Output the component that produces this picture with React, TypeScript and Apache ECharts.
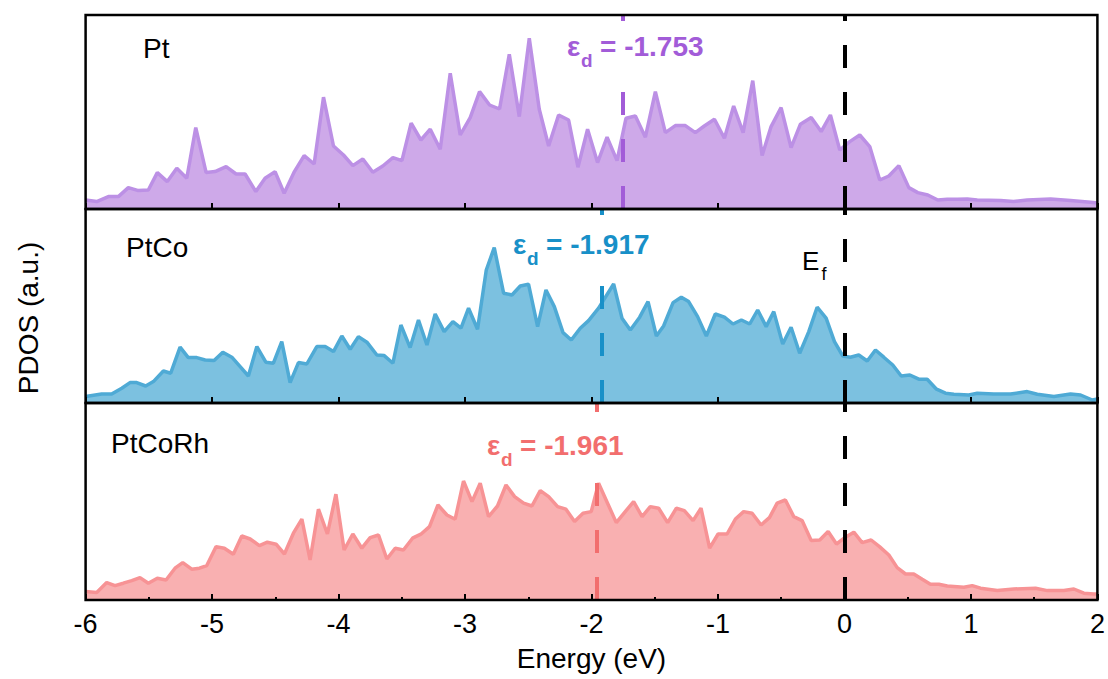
import React, { useEffect, useRef } from "react";
import * as echarts from "echarts";

// ---------- data ----------
const materials = ["Pt", "PtCo", "PtCoRh"];
const dBandCenters = [-1.753, -1.917, -1.961];
const dBandLabels = ["-1.753", "-1.917", "-1.961"];
const fermiLevel = 0;
const xTickMin = -6;
const xTickMax = 2;

const ptEnergy = [
  -6.0, -5.912, -5.82, -5.741, -5.662, -5.583, -5.504, -5.433, -5.354, -5.279,
  -5.2, -5.129, -5.047, -4.976, -4.889, -4.81, -4.739, -4.654, -4.581, -4.502,
  -4.43, -4.349, -4.272, -4.193, -4.119, -4.04, -3.961, -3.887, -3.808, -3.729,
  -3.65, -3.57, -3.499, -3.426, -3.349, -3.275, -3.196, -3.117, -3.038, -2.959,
  -2.885, -2.806, -2.727, -2.65, -2.571, -2.492, -2.413, -2.339, -2.26, -2.181,
  -2.107, -2.031, -1.952, -1.877, -1.798, -1.727, -1.653, -1.574, -1.495, -1.416,
  -1.337, -1.258, -1.179, -1.108, -1.028, -0.949, -0.876, -0.801, -0.725, -0.651,
  -0.58, -0.501, -0.422, -0.348, -0.263, -0.184, -0.111, -0.037, 0.042, 0.121,
  0.2, 0.279, 0.351, 0.43, 0.509, 0.58, 0.659, 0.738, 0.813, 0.892,
  0.971, 1.05, 1.234, 1.337, 1.445, 1.63, 1.788, 1.946, 2.0,
];
const ptPdos = [
  0.45, 0.37, 0.62, 0.62, 1.07, 0.92, 0.95, 1.82, 1.37, 2.04,
  1.54, 4.07, 1.82, 1.87, 2.12, 1.75, 1.75, 0.87, 1.54, 1.87,
  0.79, 1.87, 2.67, 2.25, 5.59, 3.15, 2.7, 2.17, 2.5, 1.84,
  2.15, 2.57, 2.42, 4.29, 3.45, 3.99, 2.99, 6.79, 3.7, 4.57,
  5.87, 5.2, 5.0, 7.74, 4.62, 8.54, 4.99, 3.15, 4.7, 4.45,
  2.09, 3.99, 2.32, 3.59, 2.42, 4.54, 4.65, 3.59, 5.87, 3.82,
  4.17, 4.17, 3.82, 4.15, 4.49, 3.54, 5.15, 3.82, 6.42, 2.67,
  4.12, 5.07, 3.07, 4.24, 4.57, 3.87, 4.7, 2.95, 3.37, 3.7,
  3.12, 1.45, 1.65, 2.17, 1.07, 0.82, 0.7, 0.45, 0.49, 0.49,
  0.5, 0.45, 0.43, 0.37, 0.45, 0.5, 0.42, 0.34, 0.3,
];

const ptcoEnergy = [
  -6.0, -5.873, -5.794, -5.714, -5.649, -5.596, -5.525, -5.464, -5.385, -5.327,
  -5.253, -5.188, -5.121, -5.055, -4.984, -4.915, -4.844, -4.778, -4.713, -4.646,
  -4.575, -4.515, -4.449, -4.383, -4.317, -4.251, -4.172, -4.106, -4.04, -3.974,
  -3.908, -3.843, -3.776, -3.697, -3.639, -3.57, -3.507, -3.434, -3.368, -3.301,
  -3.236, -3.165, -3.096, -3.032, -2.972, -2.901, -2.832, -2.769, -2.695, -2.629,
  -2.563, -2.498, -2.426, -2.36, -2.294, -2.225, -2.16, -2.089, -2.023, -1.944,
  -1.825, -1.759, -1.693, -1.619, -1.553, -1.487, -1.43, -1.355, -1.29, -1.232,
  -1.161, -1.092, -1.021, -0.949, -0.881, -0.815, -0.749, -0.686, -0.619, -0.559,
  -0.488, -0.422, -0.354, -0.282, -0.216, -0.145, -0.079, -0.013, 0.047, 0.113,
  0.18, 0.245, 0.311, 0.382, 0.449, 0.517, 0.588, 0.654, 0.728, 0.799,
  0.865, 0.983, 1.05, 1.181, 1.313, 1.445, 1.525, 1.656, 1.788, 1.867,
  1.96, 2.0,
];
const ptcoPdos = [
  0.32, 0.45, 0.45, 0.74, 1.02, 1.02, 0.85, 1.07, 1.6, 1.49,
  2.79, 2.27, 2.27, 2.15, 2.12, 2.54, 2.29, 1.82, 1.35, 2.82,
  2.04, 1.99, 3.07, 1.02, 2.02, 1.95, 2.82, 2.82, 2.57, 3.35,
  2.69, 3.32, 3.04, 2.4, 2.37, 1.99, 3.9, 2.77, 4.15, 2.9,
  4.45, 3.57, 4.07, 3.74, 4.74, 3.69, 6.65, 7.77, 5.49, 5.4,
  5.85, 5.94, 3.82, 5.65, 4.82, 3.52, 3.15, 3.74, 4.12, 4.74,
  5.95, 4.24, 3.65, 4.29, 5.07, 3.35, 3.85, 5.02, 5.29, 5.07,
  4.32, 3.35, 4.45, 4.29, 3.95, 4.15, 3.95, 4.65, 3.82, 4.57,
  2.95, 3.79, 2.49, 3.57, 4.79, 4.24, 3.07, 2.35, 2.29, 2.4,
  2.1, 2.65, 2.29, 1.9, 1.35, 1.4, 1.19, 1.19, 0.69, 0.49,
  0.44, 0.4, 0.49, 0.45, 0.45, 0.57, 0.44, 0.32, 0.45, 0.4,
  0.15, 0.2,
];

const ptcorhEnergy = [
  -6.0, -5.912, -5.833, -5.767, -5.702, -5.635, -5.57, -5.504, -5.433, -5.364,
  -5.293, -5.232, -5.161, -5.1, -5.042, -4.968, -4.903, -4.832, -4.765, -4.699,
  -4.626, -4.563, -4.494, -4.428, -4.357, -4.29, -4.225, -4.159, -4.088, -4.021,
  -3.956, -3.887, -3.816, -3.75, -3.684, -3.618, -3.552, -3.487, -3.415, -3.349,
  -3.281, -3.214, -3.143, -3.078, -3.012, -2.945, -2.88, -2.814, -2.743, -2.676,
  -2.608, -2.537, -2.471, -2.405, -2.339, -2.268, -2.202, -2.134, -2.067, -2.002,
  -1.944, -1.873, -1.804, -1.733, -1.667, -1.6, -1.535, -1.469, -1.398, -1.329,
  -1.266, -1.197, -1.134, -1.066, -0.999, -0.928, -0.862, -0.797, -0.73, -0.659,
  -0.593, -0.532, -0.467, -0.401, -0.335, -0.263, -0.195, -0.129, -0.063, 0.008,
  0.074, 0.14, 0.211, 0.277, 0.351, 0.417, 0.483, 0.548, 0.615, 0.68,
  0.746, 0.813, 0.944, 1.01, 1.076, 1.208, 1.339, 1.511, 1.604, 1.735,
  1.814, 1.893, 1.972, 2.0,
];
const ptcorhPdos = [
  0.42, 0.37, 0.87, 0.72, 0.84, 0.97, 1.12, 0.84, 1.09, 1.0,
  1.59, 1.87, 1.54, 1.59, 1.72, 2.67, 2.59, 2.29, 3.2, 3.05,
  2.72, 2.89, 2.79, 2.3, 3.34, 4.04, 2.0, 4.54, 3.3, 5.29,
  2.5, 3.3, 2.59, 3.12, 3.25, 2.05, 2.59, 2.5, 3.09, 3.29,
  3.67, 4.75, 4.25, 4.04, 5.95, 4.92, 5.84, 4.17, 4.7, 5.75,
  5.17, 4.84, 4.7, 5.47, 5.17, 4.67, 4.54, 3.92, 4.34, 4.42,
  5.84, 4.84, 3.87, 4.42, 4.92, 4.17, 4.67, 4.59, 3.87, 4.59,
  4.47, 3.97, 4.59, 2.59, 3.3, 3.3, 4.05, 4.42, 4.34, 3.75,
  4.12, 4.84, 5.0, 4.17, 3.97, 2.97, 3.0, 3.42, 2.8, 3.14,
  3.39, 2.87, 3.0, 2.67, 2.25, 1.62, 1.3, 1.3, 1.04, 0.79,
  0.79, 0.7, 0.64, 0.72, 0.59, 0.47, 0.55, 0.59, 0.47, 0.47,
  0.55, 0.34, 0.3, 0.3,
];

// ---------- styling ----------
const FONT = '"Liberation Sans", Arial, Helvetica, sans-serif';
const fillColors = ["#cea9e9", "#7cc1e0", "#f9b0b1"];
const lineColors = ["#bc90e5", "#4faad5", "#f79395"];
const markColors = ["#a25cd8", "#1890c8", "#f26e6e"];
const panelMax = [9.7, 9.7, 9.85];
const gridLayout = [
  { top: 15, height: 194 },
  { top: 209, height: 194 },
  { top: 403, height: 197 },
];
const labelPos = [
  { nameX: 143, nameY: 48.5, epsX: 567, epsY: 46 },
  { nameX: 126, nameY: 247, epsX: 513, epsY: 244 },
  { nameX: 111, nameY: 443.5, epsX: 487, epsY: 445 },
];

function txt(
  text: string,
  x: number,
  y: number,
  size: number,
  color: string,
  opts: any = {}
) {
  const align = opts.align || "left";
  return {
    type: "text",
    x,
    y,
    z: 101,
    rotation: opts.rotation || 0,
    silent: true,
    style: {
      text,
      fill: color,
      fontSize: size,
      fontFamily: FONT,
      fontWeight: opts.bold ? "bold" : "normal",
      align,
      textAlign: align,
      verticalAlign: "middle",
      textVerticalAlign: "middle",
    },
  };
}

export default function App() {
  const ref = useRef<HTMLDivElement>(null);

  useEffect(() => {
    if (!ref.current) return;
    const chart = echarts.init(ref.current, null, { renderer: "svg" });

    const datasets = [
      [ptEnergy, ptPdos],
      [ptcoEnergy, ptcoPdos],
      [ptcorhEnergy, ptcorhPdos],
    ];

    const grids = gridLayout.map((g) => ({
      left: 85.6,
      width: 1011.8,
      top: g.top,
      height: g.height,
      show: true,
      borderColor: "#000",
      borderWidth: 2.5,
      backgroundColor: "transparent",
      z: 10,
    }));

    const xAxes = gridLayout.map((_, i) => ({
      type: "value",
      gridIndex: i,
      min: xTickMin,
      max: xTickMax,
      interval: 1,
      z: 10,
      axisLine: { show: false },
      splitLine: { show: false },
      axisTick: {
        show: true,
        inside: true,
        length: 6,
        lineStyle: { color: "#000", width: 2 },
      },
      minorTick: {
        show: i === 2,
        splitNumber: 2,
        length: 3,
        lineStyle: { color: "#000", width: 2 },
      },
      axisLabel: {
        show: i === 2,
        color: "#000",
        fontSize: 27,
        fontFamily: FONT,
        margin: 10,
      },
      name: i === 2 ? "Energy (eV)" : "",
      nameLocation: "middle",
      nameGap: 44,
      nameTextStyle: { color: "#000", fontSize: 28, fontFamily: FONT },
    }));

    const yAxes = gridLayout.map((_, i) => ({
      type: "value",
      gridIndex: i,
      min: 0,
      max: panelMax[i],
      show: false,
    }));

    const series = datasets.map(([xs, ys], i) => ({
      name: materials[i],
      type: "line",
      xAxisIndex: i,
      yAxisIndex: i,
      data: xs.map((x, k) => [x, ys[k]]),
      symbol: "none",
      z: 2,
      lineStyle: { color: lineColors[i], width: 3.5 },
      areaStyle: { color: fillColors[i], opacity: 1 },
      markLine: {
        silent: true,
        symbol: ["none", "none"],
        label: { show: false },
        animation: false,
        data: [
          {
            xAxis: dBandCenters[i],
            lineStyle: { color: markColors[i], width: 4, type: [23, 24] },
          },
          {
            xAxis: fermiLevel,
            lineStyle: { color: "#000", width: 4, type: [23, 24] },
          },
        ],
      },
    }));

    const graphics: any[] = [];
    // y-axis title
    graphics.push(
      txt("PDOS (a.u.)", 28, 318, 28, "#000", {
        align: "center",
        rotation: Math.PI / 2,
      })
    );
    labelPos.forEach((p, i) => {
      graphics.push(txt(materials[i], p.nameX, p.nameY, 28, "#000"));
      // white backing behind the d-band label
      graphics.push({
        type: "rect",
        z: 100,
        silent: true,
        shape: { x: p.epsX - 4, y: p.epsY - 22, width: 150, height: 46 },
        style: { fill: "#fff" },
      });
      graphics.push(txt("ε", p.epsX, p.epsY, 28, markColors[i], { bold: true }));
      graphics.push(
        txt("d", p.epsX + 14, p.epsY + 14.5, 19, markColors[i], { bold: true })
      );
      graphics.push(
        txt("= " + dBandLabels[i], p.epsX + 33, p.epsY, 28, markColors[i], {
          bold: true,
        })
      );
    });
    // Fermi level label
    graphics.push(txt("E", 802, 261, 26, "#000"));
    graphics.push(txt("f", 821.5, 274, 18, "#000"));

    chart.setOption({
      animation: false,
      backgroundColor: "#fff",
      grid: grids,
      xAxis: xAxes,
      yAxis: yAxes,
      series,
      graphic: { elements: graphics },
    });

    return () => chart.dispose();
  }, []);

  return (
    <div
      ref={ref}
      style={{
        position: "fixed",
        left: 0,
        top: 0,
        width: 1108,
        height: 679,
        background: "#fff",
      }}
    />
  );
}
